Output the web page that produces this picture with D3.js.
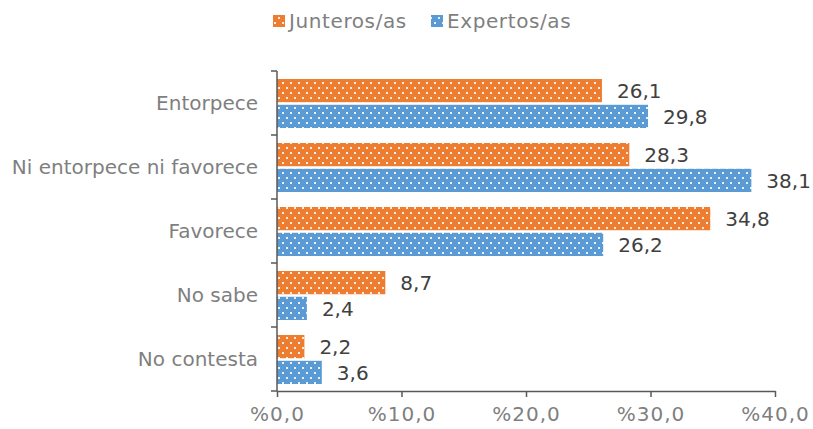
<!DOCTYPE html>
<html><head><meta charset="utf-8">
<script src="https://cdn.jsdelivr.net/npm/d3@7"></script>
<style>body{margin:0;background:#fff;} text{font-family:"DejaVu Sans",Verdana,sans-serif;}</style>
</head><body>
<svg id="chart" width="813" height="429"></svg>
<script>
const categories = ["Entorpece","Ni entorpece ni favorece","Favorece","No sabe","No contesta"];
const seriesNames = ["Junteros/as","Expertos/as"];
const junteros = [26.1, 28.3, 34.8, 8.7, 2.2];
const expertos = [29.8, 38.1, 26.2, 2.4, 3.6];
const xTicks = [0,10,20,30,40];
const colors = ["#ED7D31","#5B9BD5"];

(function(){
const svg = d3.select("#chart");
const defs = svg.append("defs");
colors.forEach((c,i)=>{
  const p = defs.append("pattern").attr("id","pat"+i).attr("patternUnits","userSpaceOnUse")
    .attr("width",8).attr("height",10);
  p.append("rect").attr("width",8).attr("height",10).attr("fill",c);
  p.append("rect").attr("x",2).attr("y",2).attr("width",2).attr("height",2).attr("fill","#fff").attr("opacity",0.85);
  p.append("rect").attr("x",6).attr("y",7).attr("width",2).attr("height",2).attr("fill","#fff").attr("opacity",0.85);
});

const mLeft = 277, mRight = 775, mTop = 71, mBottom = 391;
const x = d3.scaleLinear().domain([0,40]).range([mLeft,mRight]);
const y = d3.scaleBand().domain(categories).range([mTop,mBottom]).paddingInner(0).paddingOuter(0);
const inner = d3.scaleBand().domain(seriesNames).range([8, y.bandwidth()-7]).paddingInner(0.1);

const fmt = v => v.toFixed(1).replace(".",",");
const data = [junteros, expertos];

seriesNames.forEach((s,si)=>{
  const g = svg.append("g");
  g.selectAll("rect").data(categories).join("rect")
    .attr("x", x(0))
    .attr("y", c => y(c)+inner(s))
    .attr("width", (c,i)=> x(data[si][i]) - x(0))
    .attr("height", inner.bandwidth())
    .attr("fill", `url(#pat${si})`);
  g.selectAll("text").data(categories).join("text")
    .attr("x", (c,i)=> x(data[si][i]) + 15)
    .attr("y", c => y(c)+inner(s)+inner.bandwidth()/2)
    .attr("dy","0.36em")
    .attr("font-size",20).attr("fill","#404040")
    .text((c,i)=>fmt(data[si][i]));
});

const xAxis = d3.axisBottom(x).tickValues(xTicks).tickSize(6).tickSizeOuter(0)
  .tickFormat(d=>"%"+fmt(d));
const gx = svg.append("g").attr("transform",`translate(0,${mBottom})`).call(xAxis);
gx.select(".domain").attr("stroke","#595959").attr("stroke-width",1.5);
gx.selectAll(".tick line").attr("stroke","#595959").attr("stroke-width",1.5);
gx.selectAll(".tick text").attr("font-size",20).attr("fill","#7f7f7f").attr("dy","1.05em")
  .attr("letter-spacing","1px")
  .attr("font-family","DejaVu Sans, Verdana, sans-serif");

const gy = svg.append("g").attr("transform",`translate(${mLeft},0)`);
gy.append("line").attr("x1",0).attr("x2",0).attr("y1",mTop).attr("y2",mBottom).attr("stroke","#595959").attr("stroke-width",1.5);
const bounds = categories.map(c=>y(c)).concat([mBottom]);
gy.selectAll("line.t").data(bounds).join("line").attr("class","t")
  .attr("x1",-6).attr("x2",0).attr("y1",d=>d).attr("y2",d=>d).attr("stroke","#595959").attr("stroke-width",1.5);
gy.selectAll("text").data(categories).join("text")
  .attr("x",-19).attr("y",c=>y(c)+y.bandwidth()/2).attr("dy","0.36em")
  .attr("text-anchor","end").attr("font-size",20).attr("fill","#7f7f7f").text(c=>c);

const legX = [273, 431];
seriesNames.forEach((s,i)=>{
  svg.append("rect").attr("x",legX[i]).attr("y",15).attr("width",12).attr("height",12).attr("fill",`url(#pat${i})`);
  svg.append("text").attr("x",legX[i]+16).attr("y",21).attr("dy","0.36em").attr("font-size",20)
    .attr("letter-spacing","0.6px")
    .attr("fill","#7f7f7f").text(s);
});
})();
</script>
</body></html>
